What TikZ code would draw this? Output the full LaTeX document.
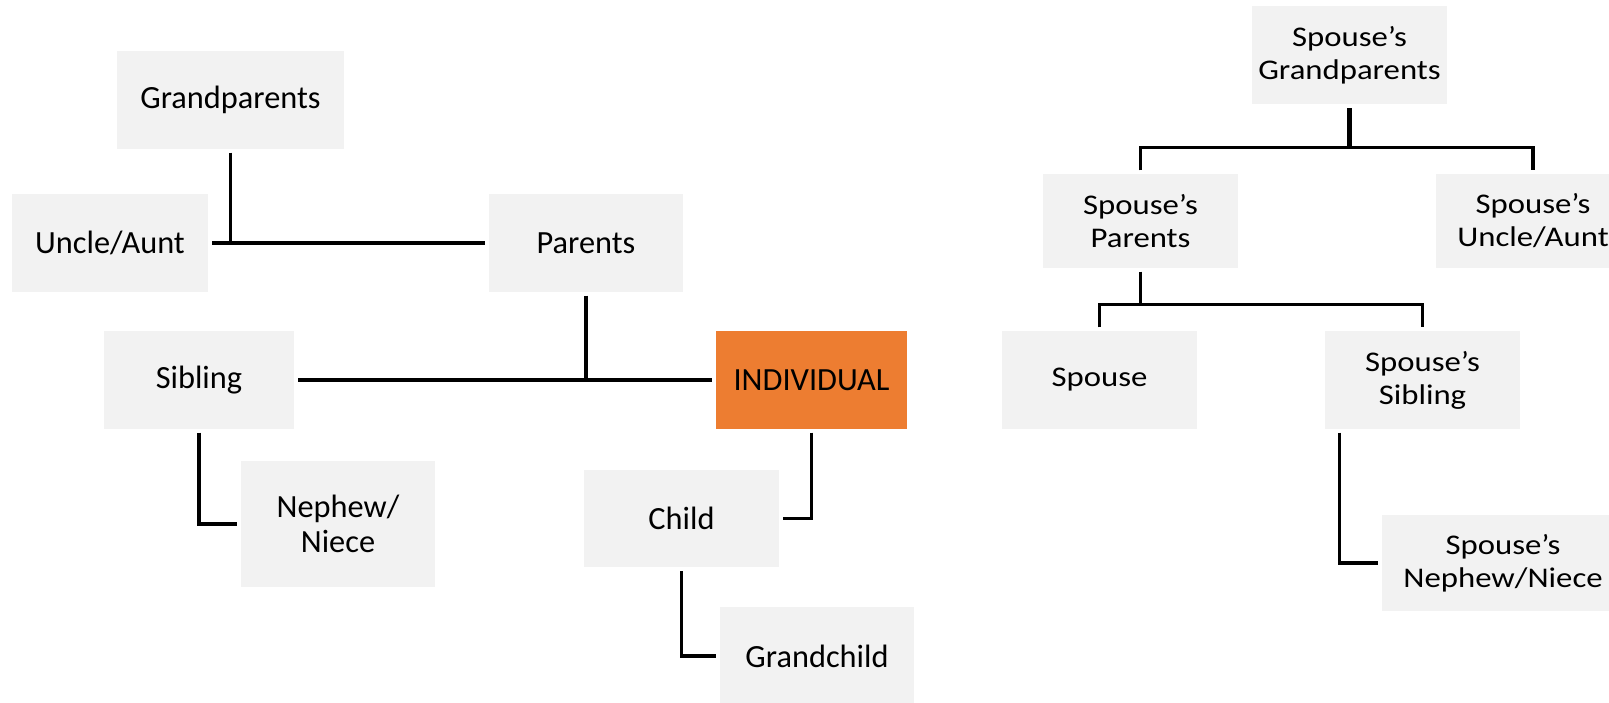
\documentclass[tikz,border=0pt]{standalone}
\usepackage{fontspec}
\setmainfont{Carlito}
\newfontfamily\spousefont[FakeStretch=1.15]{Carlito}
\usetikzlibrary{positioning}
\definecolor{boxgray}{HTML}{F2F2F2}
\definecolor{selforange}{HTML}{ED7D31}
\tikzset{
  famblock/.style={fill=boxgray, minimum width=1.94cm, minimum height=0.97cm, align=center, inner sep=0pt, outer sep=0.04cm, font=\fontsize{9.2}{10}\selectfont},
  selfblock/.style={famblock, fill=selforange},
  spouseblock/.style={famblock, font=\spousefont\fontsize{8.1}{9.4}\selectfont},
  linkline/.style={line width=1pt},
  stemline/.style={line width=1.4pt}
}

\begin{document}
\begin{tikzpicture}[x=0.01cm, y=-0.01cm]
  \clip (0,0) rectangle (1609,702);
  \fill[white] (0,0) rectangle (1609,702);
  \node[famblock, minimum width=2.27cm] (gp) at (230.5,100) {Grandparents};
  \node[famblock, minimum width=1.96cm] (ua) at (110,243) {Uncle/Aunt};
  \node[famblock] (par) at (586,243) {Parents};
  \node[famblock, minimum width=1.9cm] (sib) at (199,380) {Sibling};
  \node[selfblock, minimum width=1.91cm] (ind) at (811.5,380) {INDIVIDUAL};
  \node[famblock, minimum height=1.26cm] (neph) at (338,524) {Nephew/\\Niece};
  \node[famblock] (child) at (681.5,518.5) {Child};
  \node[famblock] (gch) at (817,656) {Grandchild};
  \draw[linkline] (gp.south) -- (gp.south |- ua.east);
  \draw[linkline] (ua.east) -- (par.west);
  \draw[stemline] (par.south) -- (par.south |- sib.east);
  \draw[linkline] (sib.east) -- (ind.west);
  \draw[linkline] (sib.south) |- (neph.west);
  \draw[linkline] (ind.south) |- (child.east);
  \draw[linkline] (child.south) |- (gch.west);

  \node[spouseblock, minimum height=0.98cm] (sgp) at (1349.5,55) {Spouse’s\\Grandparents};
  \node[spouseblock, minimum height=0.93cm] (spar) at (1140.5,221) {Spouse’s\\Parents};
  \node[spouseblock, minimum height=0.93cm] (sua) at (1533,221) {Spouse’s\\Uncle/Aunt};
  \node[spouseblock] (sp) at (1099.5,380) {Spouse};
  \node[spouseblock] (ssib) at (1422.5,380) {Spouse’s\\Sibling};
  \node[spouseblock, minimum width=2.42cm, minimum height=0.96cm] (sneph) at (1503,563) {Spouse’s\\Nephew/Niece};
  \draw[linkline] (spar.north) -- ++(0,-23) coordinate (sfork) -| (sua.north);
  \draw[stemline] (sgp.south) -- (sgp.south |- sfork);
  \draw[linkline] (sp.north) -- ++(0,-23) coordinate (pfork) -| (ssib.north);
  \draw[linkline] (spar.south) -- (spar.south |- pfork);
  \draw[linkline] ([xshift=0.18cm]ssib.south west) |- (sneph.west);
\end{tikzpicture}
\end{document}
